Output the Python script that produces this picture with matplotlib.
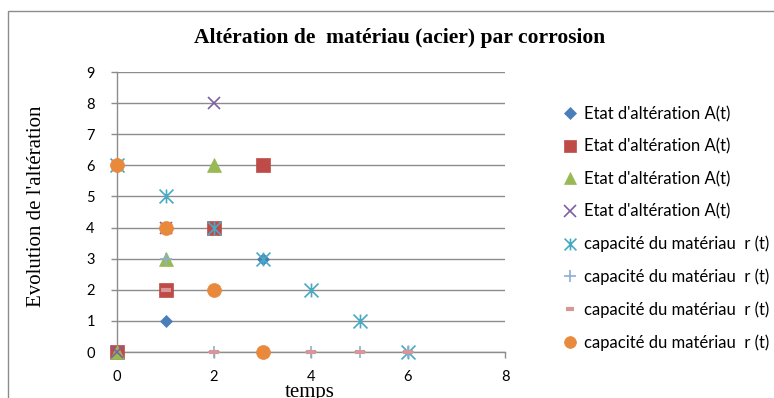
import matplotlib
matplotlib.use("Agg")
import matplotlib.pyplot as plt
from matplotlib.path import Path
from matplotlib.patches import Rectangle

# temps
t = [0, 1, 2, 3, 4, 5, 6]

# Etat d'altération A(t) (4 séries)
a1 = [0, 1, 2, 3]
a2 = [0, 2, 4, 6]
a3 = [0, 3, 6]
a4 = [0, 4, 8]

# capacité du matériau r(t) (4 séries)
r1 = [6, 5, 4, 3, 2, 1, 0]
r2 = [6, 3, 0, 0, 0, 0, 0]
r3 = [6, 2, 0, 0, 0, 0, 0]
r4 = [6, 4, 2, 0]

lbl_a = "Etat d'altération A(t)"
lbl_r = "capacité du matériau  r (t)"

# étoile façon Excel : croix + trait vertical
star = Path([(-1, -1), (1, 1), (-1, 1), (1, -1), (0, -1), (0, 1)],
            [Path.MOVETO, Path.LINETO, Path.MOVETO, Path.LINETO, Path.MOVETO, Path.LINETO])
dash = Path([(-1, 0), (1, 0)], [Path.MOVETO, Path.LINETO])

# (valeurs, marqueur, taille, taille légende, couleur, épaisseur trait, libellé)
series = [
    (a1, "D", 6.5, 6.0, "#4A7EBB", 1.0, lbl_a),
    (a2, "s", 9.5, 8.5, "#BE4B48", 1.0, lbl_a),
    (a3, "^", 9.5, 8.5, "#98B954", 1.0, lbl_a),
    (a4, "x", 8.5, 8.0, "#7D60A0", 1.2, lbl_a),
    (r1, star, 10.0, 8.5, "#46AAC5", 1.2, lbl_r),
    (r2, "+", 9.0, 9.0, "#8EADD9", 1.2, lbl_r),
    (r3, dash, 7.0, 6.0, "#DA9694", 3.0, lbl_r),
    (r4, "o", 10.0, 8.5, "#E8893C", 1.0, lbl_r),
]

fig = plt.figure(figsize=(7.74, 3.98), dpi=100)
ax = fig.add_axes([117 / 774, 46 / 398, 388 / 774, 280 / 398])

grid_c = "#8C8C8C"
for vals, mk, ms, lms, col, mew, lab in series:
    filled = mk in ("D", "s", "^", "o")
    ax.plot(t[:len(vals)], vals, linestyle="none", marker=mk, markersize=ms,
            color=col, markeredgecolor=col, markeredgewidth=0.5 if filled else mew,
            label=lab, clip_on=False, zorder=3)

ax.set_xlim(0, 8)
ax.set_ylim(0, 9)
ax.set_xticks([0, 2, 4, 6, 8])
ax.set_yticks(range(10))
ax.yaxis.grid(True, color=grid_c, linewidth=1.0)
ax.set_axisbelow(True)
for s in ("top", "right"):
    ax.spines[s].set_visible(False)
for s in ("left", "bottom"):
    ax.spines[s].set_color(grid_c)
    ax.spines[s].set_linewidth(1.0)
ax.tick_params(axis="both", colors=grid_c, length=4, width=1.0, labelcolor="black",
               labelsize=10.5)
ax.tick_params(axis="y", pad=12)
ax.tick_params(axis="x", pad=9)
for lab in ax.get_xticklabels() + ax.get_yticklabels():
    lab.set_fontfamily("Lato")

fig.text(400 / 774, 1 - 38 / 398, "Altération de  matériau (acier) par corrosion",
         ha="center", va="center", fontsize=15.5, fontweight="bold",
         family="Liberation Serif")
fig.text(37 / 774, 1 - 206 / 398, "Evolution de l'altération", rotation=90,
         ha="center", va="center", fontsize=15, family="Liberation Serif")
fig.text(310 / 774, 1 - 392 / 398, "temps", ha="center", va="center",
         fontsize=15, family="Liberation Serif")

leg = fig.legend(loc="upper left", bbox_to_anchor=(562 / 774, 1 - 106 / 398),
                 frameon=False, handlelength=0.9, handletextpad=0.4, labelspacing=0.98,
                 prop={"family": "Lato", "size": 12}, borderaxespad=0, borderpad=0)
for h, s in zip(leg.legend_handles, series):
    h.set_markersize(s[3])

# cadre du graphique
fig.patches.append(Rectangle((8 / 774, -0.2), 1.5, 1.2 - 11 / 398, transform=fig.transFigure,
                             fill=False, edgecolor=grid_c, linewidth=1.0))

fig.savefig("out.png", dpi=100)
